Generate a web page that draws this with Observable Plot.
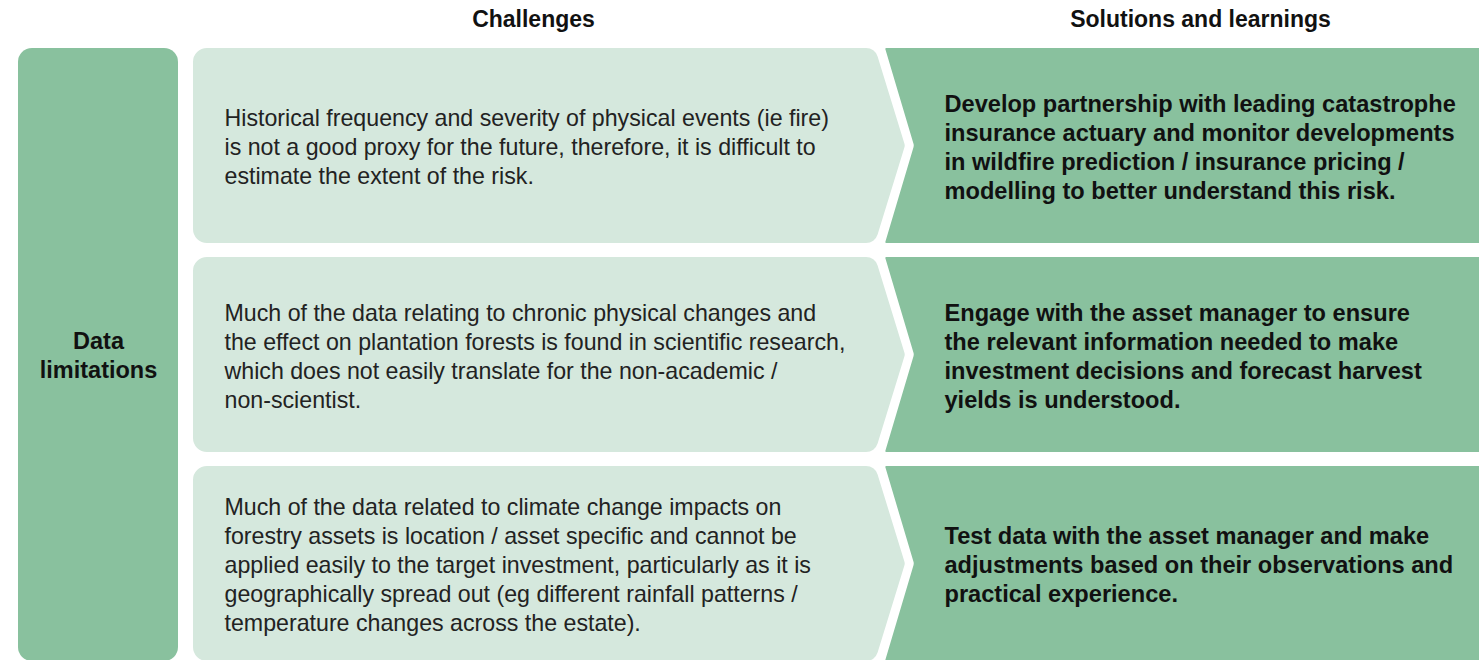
<!DOCTYPE html>
<html><head><meta charset="utf-8">
<script src="https://cdn.jsdelivr.net/npm/d3@7"></script>
<script src="https://cdn.jsdelivr.net/npm/@observablehq/plot@0.6"></script>
<style>html,body{margin:0;padding:0;background:#fff} svg{display:block}</style>
</head><body><div id="chart"></div>
<script>
// ---- data ----
const rowIds = ["r1", "r2", "r3"];
const headers = ["Challenges", "Solutions and learnings"];
const category = "Data\nlimitations";
const challenges = [
  "Historical frequency and severity of physical events (ie fire)\nis not a good proxy for the future, therefore, it is difficult to\nestimate the extent of the risk.",
  "Much of the data relating to chronic physical changes and\nthe effect on plantation forests is found in scientific research,\nwhich does not easily translate for the non-academic /\nnon-scientist.",
  "Much of the data related to climate change impacts on\nforestry assets is location / asset specific and cannot be\napplied easily to the target investment, particularly as it is\ngeographically spread out (eg different rainfall patterns /\ntemperature changes across the estate)."
];
const solutions = [
  "Develop partnership with leading catastrophe\ninsurance actuary and monitor developments\nin wildfire prediction / insurance pricing /\nmodelling to better understand this risk.",
  "Engage with the asset manager to ensure\nthe relevant information needed to make\ninvestment decisions and forecast harvest\nyields is understood.",
  "Test data with the asset manager and make\nadjustments based on their observations and\npractical experience."
];

const rows = rowIds.map((id, i) => ({id, challenge: challenges[i], solution: solutions[i]}));

// ---- layout / style ----
const W = 1479, H = 660;
const DARK = "#89c19e", LIGHT = "#d5e8dd";
const headerCenter = {"Challenges": 533, "Solutions and learnings": 1200};

function roundPoly(pts, radii) {
  const p = d3.path(), n = pts.length;
  const a = pts[n - 1], b = pts[0];
  p.moveTo((a[0] + b[0]) / 2, (a[1] + b[1]) / 2);
  for (let i = 0; i < n; i++) {
    const c = pts[i], d = pts[(i + 1) % n];
    p.arcTo(c[0], c[1], d[0], d[1], radii[i]);
  }
  p.closePath();
  return p.toString();
}

function shapes(index, scales) {
  const x = scales.x, y = scales.y, bw = y.bandwidth();
  const g = d3.create("svg:g");
  const top0 = y(rowIds[0]), bot = y(rowIds[rowIds.length - 1]) + bw;
  g.append("rect")
    .attr("x", x(18)).attr("y", top0)
    .attr("width", x(178) - x(18)).attr("height", bot - top0)
    .attr("rx", 14).attr("fill", DARK);
  for (const id of rowIds) {
    const t = y(id), b = t + bw, m = (t + b) / 2;
    g.append("path")
      .attr("d", roundPoly([[x(885), t], [x(W) + 20, t], [x(W) + 20, b], [x(885), b], [x(914), m]], [1, 0, 0, 1, 6]))
      .attr("fill", DARK);
    g.append("path")
      .attr("d", roundPoly([[x(193), t], [x(875), t], [x(905), m], [x(875), b], [x(193), b]], [14, 12, 6, 12, 14]))
      .attr("fill", LIGHT);
  }
  return g.node();
}

const plot = Plot.plot({
  width: W, height: H, margin: 0,
  x: {type: "linear", domain: [0, W], range: [0, W], axis: null},
  y: {type: "band", domain: rowIds, range: [47, 661], paddingInner: 14 / 209, paddingOuter: 0, axis: null},
  style: {fontFamily: "'Liberation Sans', Arial, Helvetica, sans-serif", background: "#fff", overflow: "hidden"},
  marks: [
    shapes,
    Plot.text(headers, {x: d => headerCenter[d], text: d => d, frameAnchor: "top", dy: 19,
      lineAnchor: "middle", fontSize: 23, fontWeight: "bold", fill: "#111"}),
    Plot.text([category], {x: () => 98, text: d => d, frameAnchor: "top", dy: (47 + 660) / 2,
      lineAnchor: "middle", textAnchor: "middle", fontSize: 23.5, fontWeight: "bold", lineHeight: 1.25, fill: "#111"}),
    Plot.text(rows, {x: () => 224, y: "id", text: "challenge", textAnchor: "start", lineAnchor: "middle",
      fontSize: 23.2, lineHeight: 1.25, fill: "#222"}),
    Plot.text(rows, {x: () => 944, y: "id", text: "solution", textAnchor: "start", lineAnchor: "middle",
      fontSize: 23.6, fontWeight: "bold", lineHeight: 1.23, fill: "#111"})
  ]
});
document.getElementById("chart").appendChild(plot);
</script>
</body></html>
